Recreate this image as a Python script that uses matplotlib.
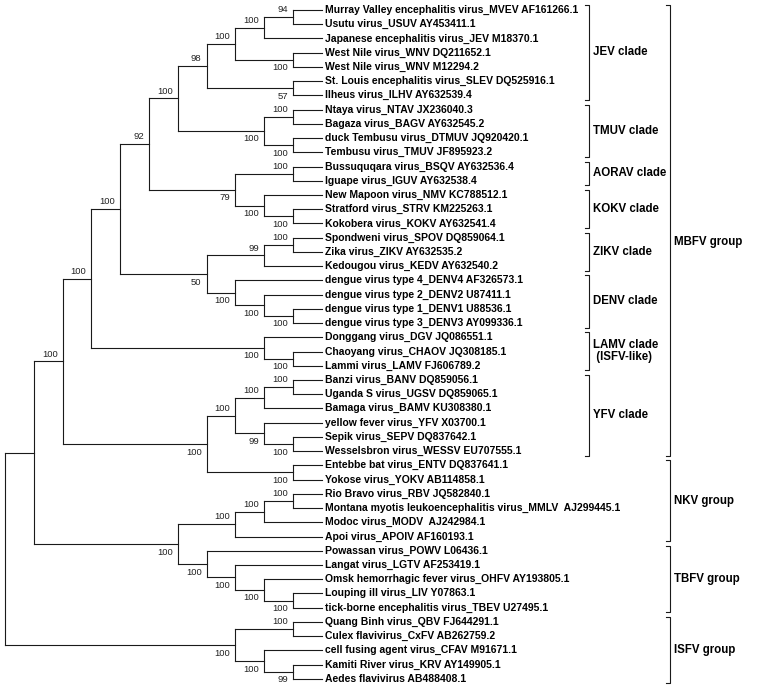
import matplotlib
matplotlib.use("Agg")
import matplotlib.pyplot as plt

FONT = "Liberation Sans"
LINE = "#1a1a1a"

# taxa, top to bottom
TAXA = [
    "Murray Valley encephalitis virus_MVEV AF161266.1",
    "Usutu virus_USUV AY453411.1",
    "Japanese encephalitis virus_JEV M18370.1",
    "West Nile virus_WNV DQ211652.1",
    "West Nile virus_WNV M12294.2",
    "St. Louis encephalitis virus_SLEV DQ525916.1",
    "Ilheus virus_ILHV AY632539.4",
    "Ntaya virus_NTAV JX236040.3",
    "Bagaza virus_BAGV AY632545.2",
    "duck Tembusu virus_DTMUV JQ920420.1",
    "Tembusu virus_TMUV JF895923.2",
    "Bussuquqara virus_BSQV AY632536.4",
    "Iguape virus_IGUV AY632538.4",
    "New Mapoon virus_NMV KC788512.1",
    "Stratford virus_STRV KM225263.1",
    "Kokobera virus_KOKV AY632541.4",
    "Spondweni virus_SPOV DQ859064.1",
    "Zika virus_ZIKV AY632535.2",
    "Kedougou virus_KEDV AY632540.2",
    "dengue virus type 4_DENV4 AF326573.1",
    "dengue virus type 2_DENV2 U87411.1",
    "dengue virus type 1_DENV1 U88536.1",
    "dengue virus type 3_DENV3 AY099336.1",
    "Donggang virus_DGV JQ086551.1",
    "Chaoyang virus_CHAOV JQ308185.1",
    "Lammi virus_LAMV FJ606789.2",
    "Banzi virus_BANV DQ859056.1",
    "Uganda S virus_UGSV DQ859065.1",
    "Bamaga virus_BAMV KU308380.1",
    "yellow fever virus_YFV X03700.1",
    "Sepik virus_SEPV DQ837642.1",
    "Wesselsbron virus_WESSV EU707555.1",
    "Entebbe bat virus_ENTV DQ837641.1",
    "Yokose virus_YOKV AB114858.1",
    "Rio Bravo virus_RBV JQ582840.1",
    "Montana myotis leukoencephalitis virus_MMLV  AJ299445.1",
    "Modoc virus_MODV  AJ242984.1",
    "Apoi virus_APOIV AF160193.1",
    "Powassan virus_POWV L06436.1",
    "Langat virus_LGTV AF253419.1",
    "Omsk hemorrhagic fever virus_OHFV AY193805.1",
    "Louping ill virus_LIV Y07863.1",
    "tick-borne encephalitis virus_TBEV U27495.1",
    "Quang Binh virus_QBV FJ644291.1",
    "Culex flavivirus_CxFV AB262759.2",
    "cell fusing agent virus_CFAV M91671.1",
    "Kamiti River virus_KRV AY149905.1",
    "Aedes flavivirus AB488408.1",
]

# topology with bootstrap support, leaves given as index into TAXA
TREE = (
    "(((((((((((0,1)94,2)100,(3,4)100)100,(5,6)57)98,"
    "((7,8)100,(9,10)100)100)100,"
    "((11,12)100,(13,(14,15)100)100)79)92,"
    "(((16,17)100,18)99,(19,(20,(21,22)100)100)100)50)100,"
    "(23,(24,25)100)100)100,"
    "((((26,27)100,28)100,(29,(30,31)100)99)100,(32,33)100)100)100,"
    "((((34,35)100,36)100,37)100,(38,(39,(40,(41,42)100)100)100)100)100),"
    "((43,44)100,(45,(46,47)99)100)100);"
)

CLADES = ["JEV clade", "TMUV clade", "AORAV clade", "KOKV clade",
          "ZIKV clade", "DENV clade", "LAMV clade\n (ISFV-like)", "YFV clade"]
CLADE_FIRST = [0, 7, 11, 13, 16, 19, 23, 26]
CLADE_LAST = [6, 10, 12, 15, 18, 22, 25, 31]

GROUPS = ["MBFV group", "NKV group", "TBFV group", "ISFV group"]
GROUP_FIRST = [0, 32, 38, 43]
GROUP_LAST = [31, 37, 42, 47]


def parse(s):
    pos = 0

    def token():
        nonlocal pos
        start = pos
        while pos < len(s) and s[pos] not in ",();":
            pos += 1
        return s[start:pos]

    def node():
        nonlocal pos
        if s[pos] == "(":
            pos += 1
            kids = [node()]
            while s[pos] == ",":
                pos += 1
                kids.append(node())
            pos += 1
            lab = token()
            return {"kids": kids, "support": lab}
        return {"leaf": int(token())}

    return node()


root = parse(TREE)


def height(n):
    if "leaf" in n:
        n["h"] = 0
    else:
        n["h"] = 1 + max(height(k) for k in n["kids"])
    return n["h"]


NLEV = height(root)


def place(n):
    n["x"] = NLEV - n["h"]
    if "leaf" in n:
        n["y"] = n["leaf"]
    else:
        for k in n["kids"]:
            place(k)
        n["y"] = (n["kids"][0]["y"] + n["kids"][-1]["y"]) / 2


place(root)

# pixel calibration
W, H = 764, 689
STEP = 28.8     # px per tree level
ROW = 14.23     # px per leaf row
X0, Y0 = 5, 10  # root x, first leaf y
px = 1 / STEP
py = 1 / ROW

fig = plt.figure(figsize=(W / 100, H / 100), dpi=100)
ax = fig.add_axes([0, 0, 1, 1])
ax.set_xlim(-X0 / STEP, (W - X0) / STEP)
ax.set_ylim((H - Y0) / ROW, -Y0 / ROW)
ax.axis("off")

lw = 0.8


def draw(n, upper=None):
    if "leaf" in n:
        ax.text(n["x"] + 3 * px, n["y"], TAXA[n["leaf"]], ha="left", va="center",
                fontsize=7.5, fontweight="bold", family=FONT, color="black")
        return
    kids = n["kids"]
    ax.plot([n["x"], n["x"]], [kids[0]["y"], kids[-1]["y"]], color=LINE, lw=lw,
            solid_capstyle="projecting")
    for i, k in enumerate(kids):
        ax.plot([n["x"], k["x"]], [k["y"], k["y"]], color=LINE, lw=lw,
                solid_capstyle="projecting")
        draw(k, upper=(i == 0))
    if n["support"] and upper is not None:
        dy = -7.2 * py if upper else 8 * py
        ax.text(n["x"] - 5 * px, n["y"] + dy, n["support"], ha="right", va="center",
                fontsize=6.8, family=FONT, color="#222222")


draw(root)


def bracket(xpx, first, last, label, nudge=0.0):
    x = (xpx - X0) / STEP
    top = first - 5 * py
    bot = last + 4.5 * py
    tick = 4.5 * px
    ax.plot([x - tick, x, x, x - tick], [top, top, bot, bot], color=LINE, lw=lw)
    ax.text(x + 4 * px, (top + bot) / 2 + nudge, label, ha="left", va="center",
            fontsize=8.3, fontweight="bold", family=FONT, color="black",
            linespacing=1.0)


for name, a, b in zip(CLADES, CLADE_FIRST, CLADE_LAST):
    bracket(589, a, b, name)

for name, a, b in zip(GROUPS, GROUP_FIRST, GROUP_LAST):
    bracket(670, a, b, name, nudge=0.85 if name == "MBFV group" else 0.0)

fig.savefig("out.png", dpi=100, facecolor="white")
